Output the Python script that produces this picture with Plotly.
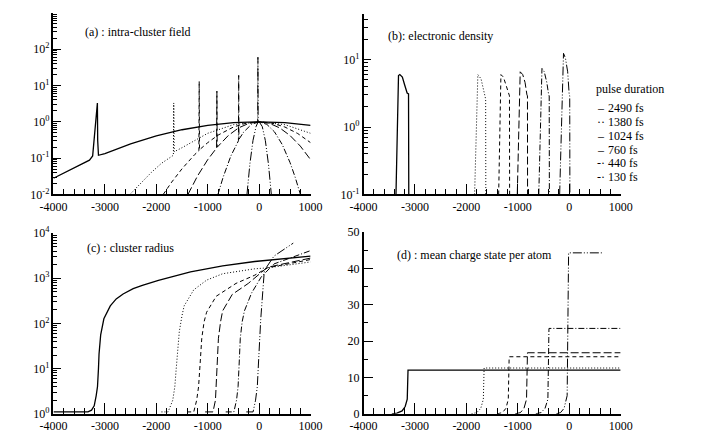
import plotly.graph_objects as go

# ---------------- data ----------------
pulse_labels = ["2490 fs", "1380 fs", "1024 fs", "760 fs", "440 fs", "130 fs"]
legend_glyphs = ["–", "··", "–", "–", "-·", "-·"]

# (a) intra-cluster field
a_t = [
    [-4000, -3600, -3300, -3238, -3208, -3176, -3146, -3140, -3125, -3000, -2500, -2000, -1500, -1000, -500, 0, 500, 1000],
    [-2514, -2300, -2100, -1900, -1760, -1668, -1661, -1652, -1500, -1000, -500, 0, 500, 1000],
    [-1866, -1700, -1500, -1335, -1250, -1172, -1166, -1160, -1000, -800, -500, -250, 0, 250, 500, 750, 1000],
    [-1385, -1200, -1000, -900, -828, -822, -816, -600, -400, -200, 0, 200, 400, 600, 800, 1000],
    [-802, -700, -550, -450, -403, -398, -393, -300, -150, 0, 150, 300, 450, 600, 700, 802],
    [-237, -180, -120, -60, -28, -24, -20, 0, 60, 120, 180, 237],
]
a_v = [
    [0.028, 0.055, 0.088, 0.115, 0.39, 0.9, 3.3, 0.3, 0.12, 0.134, 0.247, 0.409, 0.605, 0.80, 0.946, 1.0, 0.946, 0.80],
    [0.01, 0.021, 0.040, 0.072, 0.10, 0.12, 3.3, 0.15, 0.194, 0.483, 0.834, 1.0, 0.834, 0.483],
    [0.01, 0.022, 0.051, 0.095, 0.127, 0.16, 13, 0.17, 0.267, 0.429, 0.719, 0.921, 1.0, 0.921, 0.719, 0.476, 0.267],
    [0.01, 0.032, 0.091, 0.143, 0.19, 7, 0.2, 0.42, 0.68, 0.908, 1.0, 0.908, 0.68, 0.42, 0.215, 0.091],
    [0.01, 0.030, 0.115, 0.235, 0.30, 19, 0.33, 0.525, 0.851, 1.0, 0.851, 0.525, 0.235, 0.076, 0.030, 0.01],
    [0.01, 0.070, 0.307, 0.744, 0.94, 60, 0.97, 1.0, 0.744, 0.307, 0.070, 0.01],
]

# (b) electronic density
b_t = [
    [-3369, -3320, -3294, -3245, -3200, -3152, -3125, -3120],
    [-1840, -1790, -1777, -1715, -1665, -1635, -1625, -1622],
    [-1372, -1340, -1328, -1279, -1215, -1172, -1162, -1159],
    [-1010, -965, -953, -904, -859, -822, -812, -810],
    [-592, -545, -530, -485, -436, -399, -389, -386],
    [-186, -125, -111, -73, -30, 0, 10, 13],
]
b_v = [
    [0.1, 5.8, 6.0, 5.5, 4.2, 3.2, 3.1, 0.1],
    [0.1, 5.5, 6.0, 5.2, 3.7, 2.8, 2.6, 0.1],
    [0.1, 5.6, 6.0, 5.5, 3.9, 3.0, 2.9, 0.1],
    [0.1, 6.2, 6.6, 6.0, 4.6, 3.0, 2.9, 0.1],
    [0.1, 7.0, 7.4, 6.6, 4.6, 3.0, 2.9, 0.1],
    [0.1, 11.5, 12.4, 10.5, 6.6, 3.0, 2.9, 0.1],
]

# (c) cluster radius
c_t = [
    [-4000, -3330, -3260, -3208, -3170, -3144, -3125, -3114, -3082, -3020, -2895, -2780, -2646, -2450, -2272, -1959, -1335, -710, -86, 1000],
    [-1900, -1771, -1680, -1640, -1616, -1590, -1553, -1500, -1459, -1272, -1022, -710, -86, 160, 1000],
    [-1400, -1272, -1215, -1178, -1150, -1116, -1070, -1022, -835, -450, -86, 160, 1000],
    [-1050, -898, -850, -835, -810, -792, -750, -710, -523, -211, 160, 1000],
    [-650, -492, -440, -410, -390, -367, -330, -286, -148, 40, 289, 1000],
    [-250, -118, -70, -36, -15, 7, 30, 50, 101, 289, 663],
]
c_v = [
    [1.1, 1.1, 1.2, 1.5, 2.5, 4, 10, 21, 56, 127, 245, 350, 450, 590, 700, 900, 1380, 1880, 2350, 3100],
    [1.1, 1.1, 2, 4, 9, 20, 66, 150, 245, 555, 910, 1260, 1620, 1700, 2300],
    [1.1, 1.1, 2, 4, 12, 47, 110, 177, 400, 770, 1170, 1700, 2600],
    [1.1, 1.1, 2, 4, 12, 47, 110, 190, 440, 770, 1750, 2800],
    [1.1, 1.1, 2, 4, 12, 47, 110, 190, 470, 1070, 2080, 4100],
    [1.1, 1.1, 2, 4, 12, 47, 120, 245, 1490, 3100, 6000],
]

# (d) mean charge state per atom
d_t = [
    [-3450, -3350, -3250, -3190, -3150, -3135, 1000],
    [-1900, -1800, -1720, -1670, -1655, 1000],
    [-1400, -1300, -1230, -1185, -1168, 1000],
    [-1050, -950, -880, -830, -812, 1000],
    [-650, -550, -470, -415, -394, 1000],
    [-250, -170, -100, -40, -12, 660],
]
d_v = [
    [0, 0.2, 0.8, 2, 4, 12, 12],
    [0, 0.3, 1.5, 4, 12.6, 12.6],
    [0, 0.3, 1.5, 4, 15.7, 15.7],
    [0, 0.3, 1.5, 4, 16.8, 16.8],
    [0, 0.3, 1.5, 4, 23.5, 23.5],
    [0, 0.3, 1.5, 5, 44.3, 44.3],
]

x_ticks = [-4000, -3000, -2000, -1000, 0, 1000]
a_yticks = [0.01, 0.1, 1, 10, 100]
a_ylabels = ["10<sup>-2</sup>", "10<sup>-1</sup>", "10<sup>0</sup>", "10<sup>1</sup>", "10<sup>2</sup>"]
b_yticks = [0.1, 1, 10]
b_ylabels = ["10<sup>-1</sup>", "10<sup>0</sup>", "10<sup>1</sup>"]
c_yticks = [1, 10, 100, 1000, 10000]
c_ylabels = ["10<sup>0</sup>", "10<sup>1</sup>", "10<sup>2</sup>", "10<sup>3</sup>", "10<sup>4</sup>"]
d_yticks = [0, 10, 20, 30, 40, 50]

# minor tick positions of the log axes (2..9 times each decade)
a_minor = [m * 10.0 ** e for e in range(-2, 3) for m in range(2, 10)]
b_minor = [m * 10.0 ** e for e in range(-1, 2) for m in range(2, 10)]
c_minor = [m * 10.0 ** e for e in range(0, 4) for m in range(2, 10)]

# ---------------- style ----------------
dashes = ["solid", "1px,2px", "4px,3px", "8px,3px", "6px,2px,1px,2px", "9px,2px,1px,2px,1px,2px"]
widths = [1.3, 1.0, 1.0, 1.0, 1.0, 1.0]
W, H = 701, 443
FONT = "Times New Roman, Liberation Serif, DejaVu Serif, serif"

fig = go.Figure()
panels = [(a_t, a_v, "x", "y"), (b_t, b_v, "x2", "y2"), (c_t, c_v, "x3", "y3"), (d_t, d_v, "x4", "y4")]
for tt, vv, xa, ya in panels:
    for i in range(6):
        fig.add_trace(go.Scatter(
            x=tt[i], y=vv[i], mode="lines", name=pulse_labels[i], xaxis=xa, yaxis=ya,
            showlegend=False, line=dict(color="black", width=widths[i], dash=dashes[i]),
        ))


def px_x(p):
    return p / W


def px_y(p):
    return 1 - p / H


tickfont = dict(family=FONT, size=12, color="black")


def xaxis(dom, anchor):
    return dict(
        domain=dom, anchor=anchor, range=[-4000, 1000], tickmode="array", tickvals=x_ticks,
        ticktext=[str(v) for v in x_ticks], ticks="inside", ticklen=11, tickwidth=1, tickcolor="black",
        minor=dict(ticks="inside", dtick=200, ticklen=6, tickwidth=1, tickcolor="black", showgrid=False),
        showline=True, linecolor="black", linewidth=1.5, showgrid=False, zeroline=False,
        tickfont=tickfont,
    )


def ylog(dom, anchor, rng, vals, labels):
    return dict(
        domain=dom, anchor=anchor, type="log", range=rng, tickmode="array", tickvals=vals, ticktext=labels,
        ticks="inside", ticklen=8, tickwidth=1, tickcolor="black",
        showline=True, linecolor="black", linewidth=1.5, showgrid=False, zeroline=False,
        tickfont=tickfont,
    )


def ylog_minor(base, anchor, rng, vals):
    # overlay axis that only draws the small (2..9) ticks of a log axis
    return dict(
        overlaying=base, anchor=anchor, side="left", type="log", range=rng, tickmode="array",
        tickvals=vals, ticktext=["" for _ in vals], ticks="inside", ticklen=4, tickwidth=1,
        tickcolor="black", showline=False, showgrid=False, zeroline=False, showticklabels=False,
    )


top_dom = [px_y(193), px_y(5)]
bot_dom = [px_y(420), px_y(233)]
left_dom = [px_x(41), px_x(308)]
right_dom = [px_x(363), px_x(630)]

fig.update_layout(
    width=W, height=H, margin=dict(l=0, r=0, t=0, b=0),
    paper_bgcolor="white", plot_bgcolor="white", showlegend=False,
    font=dict(family=FONT, size=12, color="black"),
    xaxis=xaxis(left_dom, "y"),
    xaxis2=xaxis(right_dom, "y2"),
    xaxis3=xaxis(left_dom, "y3"),
    xaxis4=xaxis(right_dom, "y4"),
    yaxis=ylog(top_dom, "x", [-2, 3], a_yticks, a_ylabels),
    yaxis2=ylog([px_y(193), px_y(6)], "x2", [-1, 1.68], b_yticks, b_ylabels),
    yaxis3=ylog(bot_dom, "x3", [0, 4], c_yticks, c_ylabels),
    yaxis4=dict(
        domain=[px_y(420), px_y(232)], anchor="x4", range=[0, 50], tickmode="array", tickvals=d_yticks,
        ticks="inside", ticklen=10, tickwidth=1, tickcolor="black",
        minor=dict(ticks="inside", dtick=5, ticklen=5, tickwidth=1, tickcolor="black", showgrid=False),
        showline=True, linecolor="black", linewidth=1.5, showgrid=False, zeroline=False,
        tickfont=tickfont,
    ),
    yaxis5=ylog_minor("y", "x", [-2, 3], a_minor),
    yaxis6=ylog_minor("y2", "x2", [-1, 1.68], b_minor),
    yaxis7=ylog_minor("y3", "x3", [0, 4], c_minor),
)

# invisible carrier traces so the overlay tick axes are drawn
for ya, xa, v in [("y5", "x", 1), ("y6", "x2", 1), ("y7", "x3", 10)]:
    fig.add_trace(go.Scatter(x=[-4000], y=[v], xaxis=xa, yaxis=ya, mode="markers",
                             marker=dict(opacity=0), showlegend=False, hoverinfo="skip"))

anns = []


def add_text(text, xp, yp):
    anns.append(dict(text=text, x=px_x(xp), y=px_y(yp), xref="paper", yref="paper",
                     xanchor="left", yanchor="middle", showarrow=False,
                     font=dict(family=FONT, size=12, color="black")))


add_text("(a) : intra-cluster field", 72, 25)
add_text("(b): electronic density", 386, 29)
add_text("(c) : cluster radius", 74, 248)
add_text("(d) : mean charge state per atom", 396, 256)
add_text("pulse duration", 602, 84)
for i, lab in enumerate(pulse_labels):
    yy = 104 + 14.2 * i
    add_text(legend_glyphs[i], 603, yy)
    add_text(lab, 615, yy)

fig.update_layout(annotations=anns)
fig.write_html("out.html")
